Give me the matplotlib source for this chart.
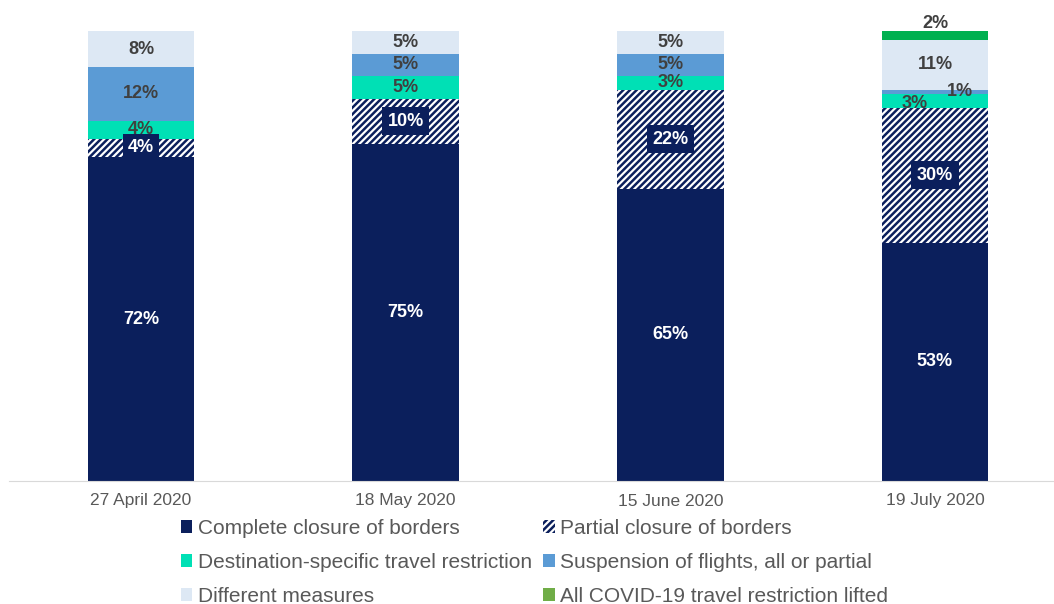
import matplotlib.pyplot as plt
import numpy as np
from matplotlib.patches import Patch

plt.rcParams['font.family'] = ['Liberation Sans', 'DejaVu Sans']
plt.rcParams['hatch.linewidth'] = 1.8

dates = ["27 April 2020", "18 May 2020", "15 June 2020", "19 July 2020"]
series = ["Complete closure of borders", "Partial closure of borders",
          "Destination-specific travel restriction", "Suspension of flights, all or partial",
          "Different measures", "All COVID-19 travel restriction lifted"]
complete = [72, 75, 65, 53]
partial = [4, 10, 22, 30]
destination = [4, 5, 3, 3]
suspension = [12, 5, 5, 1]
different = [8, 5, 5, 11]
lifted = [0, 0, 0, 2]

navy = "#0b1f5c"
colors = [navy, "white", "#00e0b5", "#5b9bd5", "#dde8f4", "#00b050"]
values = [complete, partial, destination, suspension, different, lifted]

fig = plt.figure(figsize=(10.54, 6.04), dpi=100)
ax = fig.add_axes([9 / 1054, 123 / 604, 1044 / 1054, 450 / 604])

x = np.arange(len(dates))
w = 0.404
bottom = np.zeros(len(dates))
txt_dark = "#404040"
fs = 13
for i, vals in enumerate(values):
    vals = np.array(vals, dtype=float)
    if i == 1:
        ax.bar(x, vals, w, bottom=bottom, color="white", edgecolor=navy,
               hatch="/////", linewidth=0)
    else:
        ax.bar(x, vals, w, bottom=bottom, color=colors[i], linewidth=0)
    for j, v in enumerate(vals):
        if v <= 0:
            continue
        cx = x[j]
        cy = bottom[j] + v / 2
        if i == 0:
            ax.text(cx, cy, f"{int(v)}%", ha="center", va="center", color="white",
                    fontsize=fs, fontweight="bold")
        elif i == 1:
            ax.text(cx, cy, f"{int(v)}%", ha="center", va="center", color="white",
                    fontsize=fs, fontweight="bold",
                    bbox=dict(boxstyle="square,pad=0.3", fc=navy, ec="none"))
        else:
            # small July segments are pushed aside in the original
            if j == 3 and i == 2:
                cx -= 0.075
                cy -= 0.5
            if j == 3 and i == 3:
                cx += 0.095
            if j == 3 and i == 5:
                cy += 2.6
            ax.text(cx, cy, f"{int(v)}%", ha="center", va="center", color=txt_dark,
                    fontsize=fs, fontweight="bold", clip_on=False)
    bottom += vals

ax.set_xlim(-0.4988, 3.446)
ax.set_ylim(0, 100)
ax.set_xticks(x)
ax.set_xticklabels(dates, fontsize=12.5, color="#595959")
ax.tick_params(axis="x", length=0, pad=9)
ax.set_yticks([])
for s in ["top", "right", "left"]:
    ax.spines[s].set_visible(False)
ax.spines["bottom"].set_color("#d9d9d9")

handles = [
    Patch(facecolor=navy, edgecolor="none"),
    Patch(facecolor="#00e0b5", edgecolor="none"),
    Patch(facecolor="#dde8f4", edgecolor="none"),
    Patch(facecolor="white", edgecolor=navy, hatch="/////", linewidth=0),
    Patch(facecolor="#5b9bd5", edgecolor="none"),
    Patch(facecolor="#70ad47", edgecolor="none"),
]
labels = [series[0], series[2], series[4], series[1], series[3], series[5]]
leg = fig.legend(handles, labels, ncol=2, loc="upper left",
                 bbox_to_anchor=(181 / 1054, (604 - 519) / 604),
                 frameon=False, fontsize=15, handlelength=0.55, handleheight=0.55,
                 handletextpad=0.25, columnspacing=0.55, labelspacing=0.72,
                 borderpad=0, borderaxespad=0, labelcolor="#595959")

fig.savefig("out.png", dpi=100)
